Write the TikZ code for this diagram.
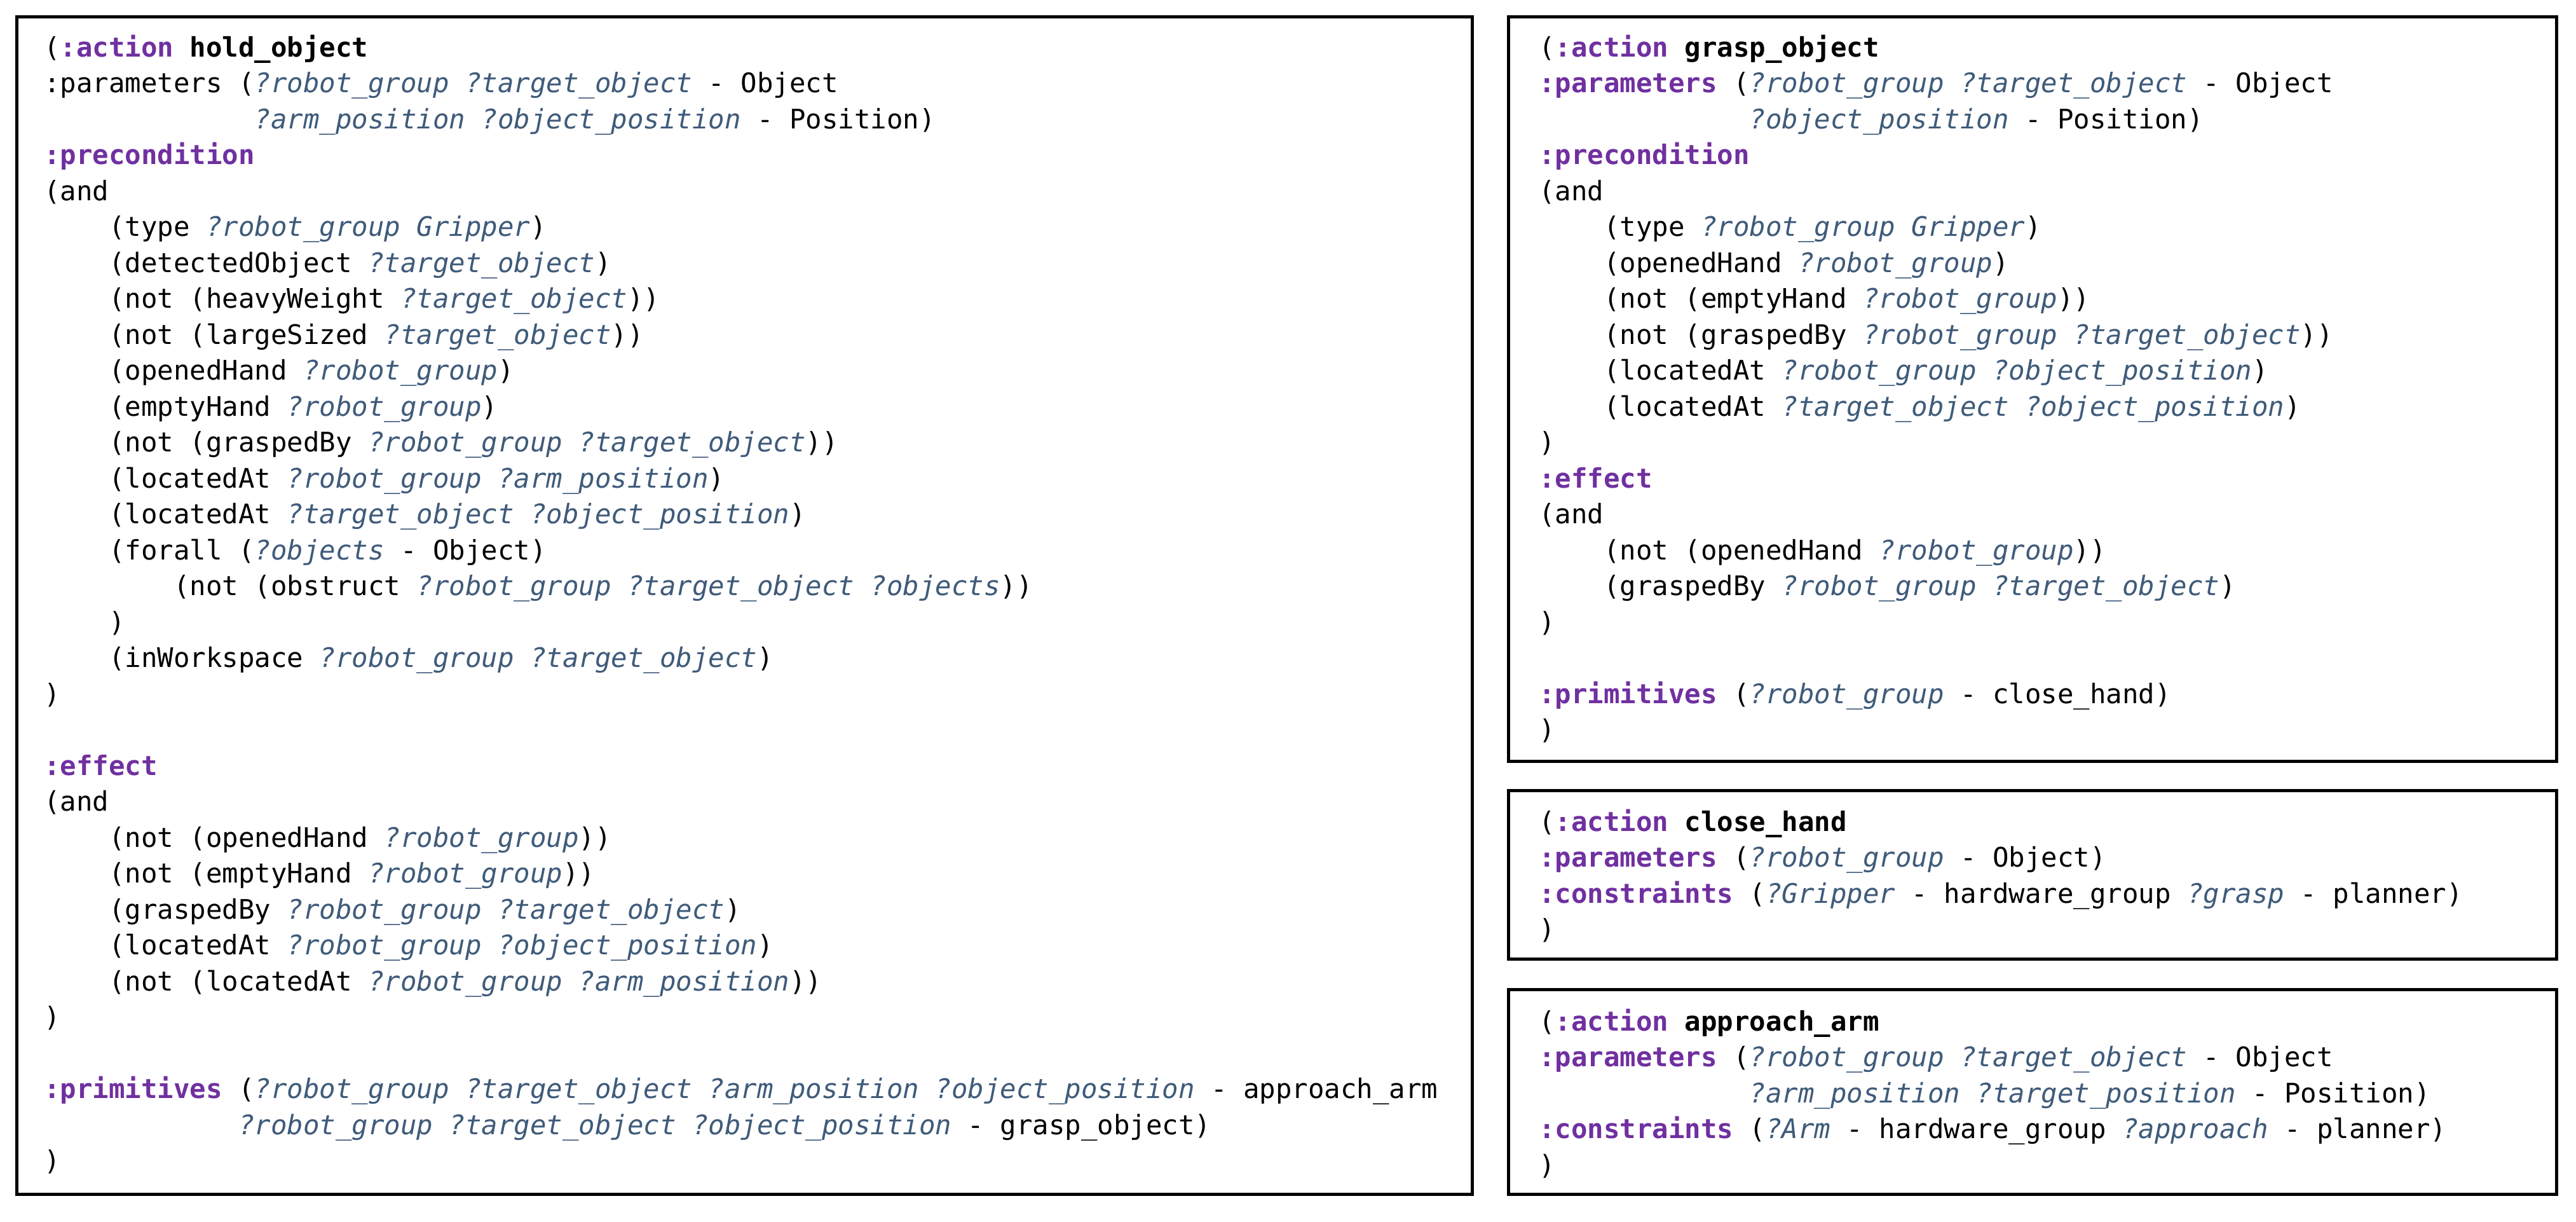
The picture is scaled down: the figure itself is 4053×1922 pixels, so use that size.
\documentclass[tikz,border=0pt]{standalone}
\usepackage{fontspec}
\newfontfamily\codefont{DejaVu Sans Mono}
\definecolor{kwc}{HTML}{7030A0}
\definecolor{varc}{HTML}{3F5B7A}
\newcommand\pk[1]{\textcolor{kwc}{\bfseries #1}}
\newcommand\pv[1]{\textcolor{varc}{\itshape #1}}
\newcommand\pn[1]{{\bfseries #1}}
% name, x0, column, base, line index, text
\newcommand\codeline[6]{\node[code] (#1) at ({#2+#3*25.5},{-(#4+#5*56.5)}) {#6};}
\tikzset{
  code/.style={anchor=base west, inner sep=0pt, font=\codefont\fontsize{42.36}{56}\selectfont},
  panel/.style={draw=black, line width=5pt}
}
\begin{document}
\begin{tikzpicture}[x=1pt,y=1pt]
\useasboundingbox (0,0) rectangle (4053,-1922);
\fill[white] (0,0) rectangle (4053,-1922);
% boxes
\draw[panel] (26,-26) rectangle (2316,-1878);
\draw[panel] (2373,-26) rectangle (4022,-1197);
\draw[panel] (2373,-1243) rectangle (4022,-1508);
\draw[panel] (2373,-1556) rectangle (4022,-1878);
% hold_object
\def\X{69}\def\B{89}
\codeline{h0}{\X}{0}{\B}{0}{(\pk{:action} \pn{hold\_object}}
\codeline{h1}{\X}{0}{\B}{1}{:parameters (\pv{?robot\_group ?target\_object} - Object}
\codeline{h2}{\X}{13}{\B}{2}{\pv{?arm\_position ?object\_position} - Position)}
\codeline{h3}{\X}{0}{\B}{3}{\pk{:precondition}}
\codeline{h4}{\X}{0}{\B}{4}{(and}
\codeline{h5}{\X}{4}{\B}{5}{(type \pv{?robot\_group Gripper})}
\codeline{h6}{\X}{4}{\B}{6}{(detectedObject \pv{?target\_object})}
\codeline{h7}{\X}{4}{\B}{7}{(not (heavyWeight \pv{?target\_object}))}
\codeline{h8}{\X}{4}{\B}{8}{(not (largeSized \pv{?target\_object}))}
\codeline{h9}{\X}{4}{\B}{9}{(openedHand \pv{?robot\_group})}
\codeline{h10}{\X}{4}{\B}{10}{(emptyHand \pv{?robot\_group})}
\codeline{h11}{\X}{4}{\B}{11}{(not (graspedBy \pv{?robot\_group ?target\_object}))}
\codeline{h12}{\X}{4}{\B}{12}{(locatedAt \pv{?robot\_group ?arm\_position})}
\codeline{h13}{\X}{4}{\B}{13}{(locatedAt \pv{?target\_object ?object\_position})}
\codeline{h14}{\X}{4}{\B}{14}{(forall (\pv{?objects} - Object)}
\codeline{h15}{\X}{8}{\B}{15}{(not (obstruct \pv{?robot\_group ?target\_object ?objects}))}
\codeline{h16}{\X}{4}{\B}{16}{)}
\codeline{h17}{\X}{4}{\B}{17}{(inWorkspace \pv{?robot\_group ?target\_object})}
\codeline{h18}{\X}{0}{\B}{18}{)}
\codeline{h20}{\X}{0}{\B}{20}{\pk{:effect}}
\codeline{h21}{\X}{0}{\B}{21}{(and}
\codeline{h22}{\X}{4}{\B}{22}{(not (openedHand \pv{?robot\_group}))}
\codeline{h23}{\X}{4}{\B}{23}{(not (emptyHand \pv{?robot\_group}))}
\codeline{h24}{\X}{4}{\B}{24}{(graspedBy \pv{?robot\_group ?target\_object})}
\codeline{h25}{\X}{4}{\B}{25}{(locatedAt \pv{?robot\_group ?object\_position})}
\codeline{h26}{\X}{4}{\B}{26}{(not (locatedAt \pv{?robot\_group ?arm\_position}))}
\codeline{h27}{\X}{0}{\B}{27}{)}
\codeline{h29}{\X}{0}{\B}{29}{\pk{:primitives} (\pv{?robot\_group ?target\_object ?arm\_position ?object\_position} - approach\_arm}
\codeline{h30}{\X}{12}{\B}{30}{\pv{?robot\_group ?target\_object ?object\_position} - grasp\_object)}
\codeline{h31}{\X}{0}{\B}{31}{)}
% grasp_object
\def\X{2421}\def\B{89}
\codeline{g0}{\X}{0}{\B}{0}{(\pk{:action} \pn{grasp\_object}}
\codeline{g1}{\X}{0}{\B}{1}{\pk{:parameters} (\pv{?robot\_group ?target\_object} - Object}
\codeline{g2}{\X}{13}{\B}{2}{\pv{?object\_position} - Position)}
\codeline{g3}{\X}{0}{\B}{3}{\pk{:precondition}}
\codeline{g4}{\X}{0}{\B}{4}{(and}
\codeline{g5}{\X}{4}{\B}{5}{(type \pv{?robot\_group Gripper})}
\codeline{g6}{\X}{4}{\B}{6}{(openedHand \pv{?robot\_group})}
\codeline{g7}{\X}{4}{\B}{7}{(not (emptyHand \pv{?robot\_group}))}
\codeline{g8}{\X}{4}{\B}{8}{(not (graspedBy \pv{?robot\_group ?target\_object}))}
\codeline{g9}{\X}{4}{\B}{9}{(locatedAt \pv{?robot\_group ?object\_position})}
\codeline{g10}{\X}{4}{\B}{10}{(locatedAt \pv{?target\_object ?object\_position})}
\codeline{g11}{\X}{0}{\B}{11}{)}
\codeline{g12}{\X}{0}{\B}{12}{\pk{:effect}}
\codeline{g13}{\X}{0}{\B}{13}{(and}
\codeline{g14}{\X}{4}{\B}{14}{(not (openedHand \pv{?robot\_group}))}
\codeline{g15}{\X}{4}{\B}{15}{(graspedBy \pv{?robot\_group ?target\_object})}
\codeline{g16}{\X}{0}{\B}{16}{)}
\codeline{g18}{\X}{0}{\B}{18}{\pk{:primitives} (\pv{?robot\_group} - close\_hand)}
\codeline{g19}{\X}{0}{\B}{19}{)}
% close_hand
\def\B{1307}
\codeline{c0}{\X}{0}{\B}{0}{(\pk{:action} \pn{close\_hand}}
\codeline{c1}{\X}{0}{\B}{1}{\pk{:parameters} (\pv{?robot\_group} - Object)}
\codeline{c2}{\X}{0}{\B}{2}{\pk{:constraints} (\pv{?Gripper} - hardware\_group \pv{?grasp} - planner)}
\codeline{c3}{\X}{0}{\B}{3}{)}
% approach_arm
\def\B{1621}
\codeline{a0}{\X}{0}{\B}{0}{(\pk{:action} \pn{approach\_arm}}
\codeline{a1}{\X}{0}{\B}{1}{\pk{:parameters} (\pv{?robot\_group ?target\_object} - Object}
\codeline{a2}{\X}{13}{\B}{2}{\pv{?arm\_position ?target\_position} - Position)}
\codeline{a3}{\X}{0}{\B}{3}{\pk{:constraints} (\pv{?Arm} - hardware\_group \pv{?approach} - planner)}
\codeline{a4}{\X}{0}{\B}{4}{)}
\end{tikzpicture}
\end{document}
